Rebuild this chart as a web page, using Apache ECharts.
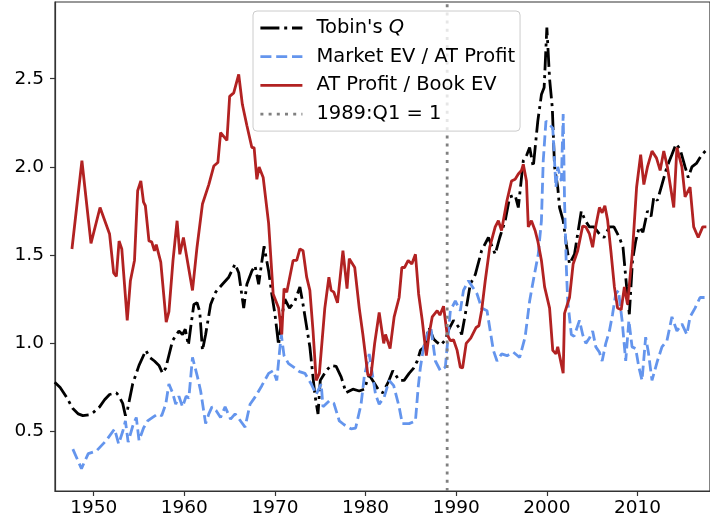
<!DOCTYPE html>
<html>
<head>
<meta charset="utf-8">
<script src="https://cdn.jsdelivr.net/npm/echarts@6/dist/echarts.min.js"></script>
<style>
html,body{margin:0;padding:0;background:#fff;}
#chart{width:710px;height:527px;}
</style>
</head>
<body>
<div id="chart"></div>
<script>
// Tobin's Q
var qYears = [1945.7,1946.3,1947.0,1947.7,1948.3,1948.8,1949.5,1950.0,1950.65,1951.2,1951.75,1952.5,1952.8,1953.2,1953.5,1953.75,1954.3,1955.0,1955.75,1956.2,1956.7,1957.2,1957.6,1957.95,1958.7,1959.4,1959.8,1960.1,1960.45,1960.7,1961.05,1961.4,1961.7,1962.0,1962.35,1962.9,1963.45,1964.2,1964.9,1965.6,1966.0,1966.55,1966.9,1967.45,1967.8,1968.2,1968.6,1968.8,1969.3,1969.65,1970.0,1970.4,1970.75,1971.1,1971.6,1972.2,1972.75,1973.1,1973.85,1974.4,1974.75,1975.0,1975.65,1976.2,1976.75,1977.3,1977.85,1978.6,1979.3,1979.85,1980.4,1980.9,1981.5,1981.9,1982.5,1983.0,1983.7,1984.25,1984.8,1985.3,1985.7,1986.05,1986.5,1987.0,1987.5,1987.9,1988.3,1988.8,1989.2,1989.7,1990.3,1990.6,1991.0,1991.55,1992.1,1992.8,1993.55,1994.3,1994.8,1995.4,1995.9,1996.5,1996.85,1997.4,1997.8,1998.1,1998.5,1999.0,1999.4,1999.7,2000.0,2000.3,2000.6,2000.85,2001.2,2001.4,2001.8,2002.15,2002.5,2003.05,2003.4,2003.8,2004.2,2004.7,2005.2,2005.8,2006.3,2006.9,2007.4,2008.0,2008.4,2008.8,2009.1,2009.45,2009.8,2010.2,2010.6,2011.1,2011.5,2011.8,2012.2,2012.7,2013.25,2013.8,2014.25,2014.7,2015.25,2015.6,2016.0,2016.5,2017.1,2017.5];
var qVals = [0.78,0.75,0.695,0.63,0.60,0.59,0.595,0.61,0.64,0.68,0.71,0.72,0.70,0.66,0.59,0.63,0.77,0.875,0.96,0.92,0.90,0.875,0.83,0.86,1.015,1.07,1.05,1.08,0.99,1.09,1.22,1.23,1.18,0.96,1.05,1.22,1.29,1.335,1.375,1.45,1.40,1.20,1.335,1.41,1.44,1.335,1.48,1.55,1.41,1.28,1.165,0.99,1.15,1.25,1.20,1.24,1.32,1.22,0.98,0.71,0.60,0.79,0.845,0.875,0.87,0.81,0.72,0.74,0.73,0.74,0.82,0.78,0.73,0.72,0.78,0.845,0.79,0.79,0.83,0.86,0.90,0.96,0.98,1.09,1.025,1.005,0.99,1.02,1.08,1.13,1.09,1.05,1.165,1.335,1.39,1.525,1.60,1.505,1.60,1.695,1.83,1.84,1.77,2.035,2.07,2.11,2.0,2.26,2.41,2.45,2.79,2.5,2.335,2.0,1.885,1.77,1.695,1.56,1.45,1.505,1.62,1.75,1.70,1.66,1.66,1.62,1.60,1.66,1.66,1.60,1.545,1.32,1.165,1.47,1.58,1.66,1.63,1.75,1.72,1.83,1.81,1.90,2.0,2.07,2.13,2.10,2.0,1.94,2.0,2.02,2.07,2.09];

// Market EV / AT Profit
var mYears = [1947.7,1948.65,1949.4,1950.3,1951.4,1952.3,1952.75,1953.2,1953.5,1953.8,1954.3,1954.7,1955.0,1955.5,1955.95,1956.5,1957.05,1957.5,1957.95,1958.3,1958.7,1959.05,1959.4,1959.8,1960.2,1960.5,1960.9,1961.45,1961.8,1962.35,1962.7,1963.05,1963.5,1964.0,1964.5,1965.1,1965.6,1966.2,1966.7,1967.25,1967.8,1968.55,1969.3,1969.8,1970.2,1970.5,1970.7,1971.0,1971.5,1972.2,1972.7,1973.3,1974.0,1974.55,1975.1,1975.3,1976.0,1976.5,1977.1,1977.6,1978.4,1978.9,1979.5,1979.85,1980.4,1981.1,1981.5,1982.05,1982.6,1983.1,1983.7,1984.05,1984.8,1985.5,1985.8,1986.05,1986.4,1986.8,1987.2,1987.7,1988.25,1988.8,1989.35,1989.9,1990.45,1990.8,1991.35,1991.8,1992.3,1992.8,1993.4,1993.75,1994.1,1994.5,1995.0,1995.6,1996.3,1997.0,1997.6,1998.1,1998.5,1999.05,1999.4,1999.6,1999.9,2000.3,2000.65,2001.0,2001.2,2001.6,2001.8,2001.95,2002.15,2002.3,2002.7,2003.0,2003.6,2003.95,2004.3,2004.7,2005.05,2005.4,2005.8,2006.1,2006.5,2006.9,2007.25,2007.6,2007.9,2008.3,2008.7,2009.05,2009.4,2009.8,2010.15,2010.5,2010.9,2011.2,2011.6,2012.2,2012.7,2013.25,2013.8,2014.35,2014.9,2015.45,2015.8,2016.35,2016.9,2017.4];
var mVals = [0.40,0.29,0.375,0.39,0.45,0.515,0.43,0.50,0.56,0.44,0.53,0.58,0.45,0.52,0.56,0.58,0.60,0.59,0.655,0.77,0.72,0.655,0.70,0.64,0.70,0.69,0.92,0.81,0.73,0.545,0.60,0.64,0.62,0.58,0.64,0.57,0.60,0.56,0.525,0.655,0.695,0.76,0.83,0.845,0.79,0.95,1.05,0.93,0.885,0.86,0.84,0.83,0.77,0.71,0.77,0.64,0.675,0.66,0.56,0.54,0.515,0.52,0.655,0.81,0.94,0.71,0.655,0.695,0.79,0.76,0.64,0.545,0.545,0.56,0.75,0.865,0.98,1.05,1.09,0.90,0.845,0.865,1.185,1.24,1.185,1.30,1.355,1.32,1.28,1.20,1.185,1.07,0.96,0.90,0.94,0.93,0.95,0.92,1.035,1.24,1.355,1.505,1.695,2.035,2.26,2.24,2.22,1.885,2.0,1.92,2.30,1.81,1.43,1.24,1.05,1.04,1.13,1.05,1.0,1.03,1.07,0.98,0.95,0.90,1.0,1.07,1.165,1.28,1.30,1.13,0.90,1.13,0.98,0.97,0.865,0.79,1.035,0.95,0.79,0.90,0.98,1.015,1.15,1.07,1.11,1.05,1.15,1.20,1.26,1.26];

// AT Profit / Book EV
var pYears = [1947.6,1948.7,1949.7,1950.7,1951.75,1952.2,1952.5,1952.8,1953.1,1953.7,1954.05,1954.5,1954.85,1955.2,1955.5,1955.7,1956.1,1956.4,1956.7,1956.9,1957.4,1958.0,1958.3,1958.75,1959.2,1959.5,1959.9,1960.3,1960.9,1961.4,1962.0,1962.2,1962.7,1963.25,1963.7,1964.0,1964.7,1965.0,1965.45,1966.0,1966.4,1966.9,1967.45,1967.7,1968.0,1968.25,1968.7,1969.3,1969.8,1970.4,1970.75,1971.0,1971.3,1972.0,1972.4,1972.75,1973.1,1973.5,1973.85,1974.2,1974.55,1974.9,1975.5,1975.95,1976.2,1976.5,1976.9,1977.5,1977.95,1978.2,1978.8,1979.3,1979.7,1980.25,1980.6,1981.0,1981.5,1982.0,1982.2,1982.7,1983.15,1983.7,1984.0,1984.3,1984.7,1985.1,1985.5,1985.85,1986.25,1986.7,1987.0,1987.35,1987.9,1988.2,1988.6,1989.0,1989.35,1989.7,1990.1,1990.45,1990.7,1991.1,1991.6,1992.2,1992.5,1992.8,1993.2,1993.7,1994.3,1994.65,1995.0,1995.6,1996.1,1996.5,1996.85,1997.2,1997.4,1997.75,1997.95,1998.3,1998.7,1999.0,1999.4,1999.75,2000.3,2000.65,2001.0,2001.2,2001.8,2001.95,2002.5,2002.9,2003.4,2003.95,2004.3,2004.7,2005.05,2005.4,2005.8,2006.1,2006.4,2006.7,2007.1,2007.45,2007.8,2008.2,2008.55,2008.9,2009.45,2009.9,2010.35,2010.7,2011.1,2011.6,2012.1,2012.5,2012.9,2013.3,2014.0,2014.35,2014.9,2015.25,2015.8,2016.2,2016.7,2017.2,2017.6];
var pVals = [1.535,2.035,1.567,1.77,1.62,1.40,1.38,1.58,1.535,1.13,1.355,1.47,1.865,1.92,1.80,1.78,1.58,1.575,1.525,1.56,1.46,1.12,1.18,1.47,1.695,1.505,1.60,1.48,1.30,1.545,1.79,1.78,1.90,2.005,2.025,2.195,2.15,2.40,2.42,2.525,2.355,2.235,2.11,2.11,1.93,2.0,1.94,1.68,1.28,1.20,1.05,1.31,1.29,1.47,1.47,1.535,1.525,1.375,1.30,1.07,0.79,0.83,1.20,1.375,1.30,1.29,1.23,1.525,1.31,1.48,1.43,1.20,1.05,0.82,0.82,1.0,1.175,1.0,1.05,0.97,1.15,1.26,1.43,1.43,1.47,1.45,1.505,1.28,1.13,0.93,1.05,1.15,1.185,1.16,1.21,1.05,1.015,1.02,0.96,0.865,0.86,1.0,1.03,1.09,1.10,1.185,1.355,1.545,1.66,1.695,1.64,1.81,1.92,1.93,1.96,1.98,2.015,1.92,1.66,1.695,1.64,1.58,1.47,1.32,1.20,0.96,0.94,0.98,0.83,1.17,1.26,1.45,1.525,1.665,1.66,1.62,1.545,1.665,1.77,1.74,1.78,1.70,1.505,1.32,1.20,1.19,1.32,1.22,1.525,1.885,2.07,1.9,2.0,2.09,2.05,1.98,2.09,2.0,1.77,2.11,2.0,1.83,1.885,1.66,1.60,1.66,1.66];

// 1989:Q1 reference line
var refYears = [1989, 1989];
var refVals = [0.163, 2.935];

var xMin = 1945.73, xMax = 2018.0;
var yMin = 0.163, yMax = 2.935;

function zip(xs, ys){
    var out = [];
    for(var i = 0; i < xs.length; i++){
        out.push([xs[i], ys[i]]);
    }
    return out;
}

var chart = echarts.init(document.getElementById('chart'));

var fontFam = 'DejaVu Sans';
var lw = 2.8;
var dashDot = [19, 4.8, 3, 4.8];
var dashed = [11, 4.8];
var dotted = [3, 5.2];

var option = {
    animation: false,
    backgroundColor: '#fff',
    grid: {
        left: 55,
        top: 2,
        width: 660,
        bottom: 36,
        show: true,
        borderColor: '#333',
        borderWidth: 1.2,
        backgroundColor: 'transparent'
    },
    legend: {
        orient: 'vertical',
        left: 253,
        top: 11,
        itemWidth: 42,
        itemHeight: 14,
        itemGap: 8.7,
        padding: [7, 5, 7, 6],
        backgroundColor: 'rgba(255,255,255,0.8)',
        borderColor: '#cccccc',
        borderWidth: 1,
        borderRadius: 4,
        textStyle: {
            fontFamily: fontFam,
            fontSize: 19.5,
            color: '#000',
            lineHeight: 20,
            padding: [0, 0, 0, 9],
            rich: {
                i: {fontFamily: fontFam, fontSize: 19.5, fontStyle: 'italic', color: '#000'}
            }
        },
        formatter: function(name){
            if(name === "Tobin's Q") return "Tobin's {i|Q}";
            return name;
        },
        data: [
            {name: "Tobin's Q", itemStyle: {opacity: 0}, lineStyle: {color: '#000000', width: lw, type: dashDot}},
            {name: 'Market EV / AT Profit', itemStyle: {opacity: 0}, lineStyle: {color: '#6495ED', width: lw, type: dashed}},
            {name: 'AT Profit / Book EV', itemStyle: {opacity: 0}, lineStyle: {color: '#B22222', width: lw, type: 'solid'}},
            {name: '1989:Q1 = 1', itemStyle: {opacity: 0}, lineStyle: {color: '#808080', width: lw, type: dotted}}
        ]
    },
    xAxis: {
        type: 'value',
        min: xMin,
        max: xMax,
        minInterval: 10,
        maxInterval: 10,
        splitLine: {show: false},
        axisLine: {show: true, lineStyle: {color: '#333', width: 1.2}},
        axisTick: {show: true, length: 5, lineStyle: {color: '#333', width: 1.2}},
        axisLabel: {
            color: '#000', fontFamily: fontFam, fontSize: 18.5, margin: 8,
            showMinLabel: false, showMaxLabel: false,
            formatter: function(v){ return String(Math.round(v)); }
        }
    },
    yAxis: {
        type: 'value',
        min: yMin,
        max: yMax,
        minInterval: 0.5,
        maxInterval: 0.5,
        splitLine: {show: false},
        axisLine: {show: true, lineStyle: {color: '#333', width: 1.2}},
        axisTick: {show: true, length: 5, lineStyle: {color: '#333', width: 1.2}},
        axisLabel: {
            color: '#000', fontFamily: fontFam, fontSize: 18.5, margin: 11,
            showMinLabel: false, showMaxLabel: false,
            formatter: function(v){ return v.toFixed(1); }
        }
    },
    series: [
        {
            name: "Tobin's Q",
            type: 'line',
            symbol: 'none',
            color: '#000000',
            lineStyle: {color: '#000000', width: lw, type: dashDot},
            data: zip(qYears, qVals)
        },
        {
            name: 'Market EV / AT Profit',
            type: 'line',
            symbol: 'none',
            color: '#6495ED',
            lineStyle: {color: '#6495ED', width: lw, type: dashed},
            data: zip(mYears, mVals)
        },
        {
            name: 'AT Profit / Book EV',
            type: 'line',
            symbol: 'none',
            color: '#B22222',
            lineStyle: {color: '#B22222', width: lw},
            data: zip(pYears, pVals)
        },
        {
            name: '1989:Q1 = 1',
            type: 'line',
            symbol: 'none',
            color: '#808080',
            lineStyle: {color: '#808080', width: lw, type: dotted},
            data: zip(refYears, refVals)
        }
    ]
};

chart.setOption(option);
</script>
</body>
</html>
